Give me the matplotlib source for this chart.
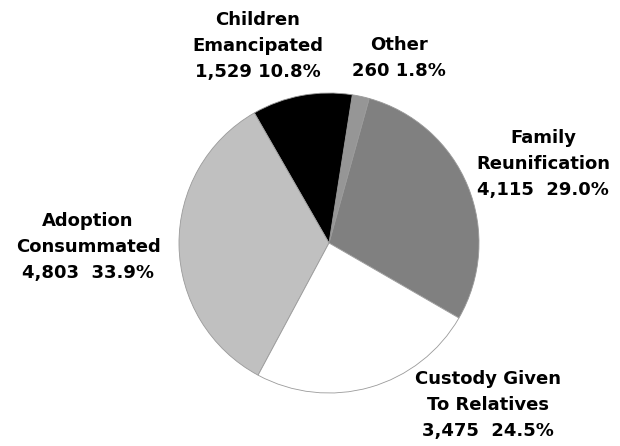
import matplotlib
matplotlib.use("Agg")
import matplotlib.pyplot as plt

# outcome data
names = ["Family\nReunification", "Other", "Children\nEmancipated",
         "Adoption\nConsummated", "Custody Given\nTo Relatives"]
counts = [4115, 260, 1529, 4803, 3475]
pcts = [29.0, 1.8, 10.8, 33.9, 24.5]
colors = ["#808080", "#969696", "#000000", "#c0c0c0", "#ffffff"]
seps = ["  ", " ", " ", "  ", "  "]

# label centres in pixels (x, y from top)
label_px = [(543, 164), (399, 58), (258, 46), (88, 247), (488, 405)]

W, H = 620, 446
cx, cy, r = 329, 243, 150

fig = plt.figure(figsize=(W / 100, H / 100), dpi=100)
ax = fig.add_axes([0, 0, 1, 1])

ax.pie(counts, colors=colors, startangle=-30, counterclock=True,
       radius=1.0, center=(0, 0),
       wedgeprops=dict(edgecolor="#9a9a9a", linewidth=0.6))

ax.set_xlim(-cx / r, (W - cx) / r)
ax.set_ylim(-(H - cy) / r, cy / r)
ax.set_aspect("equal")
ax.axis("off")

for name, n, p, s, (px, py) in zip(names, counts, pcts, seps, label_px):
    txt = "%s\n%s%s%.1f%%" % (name, format(n, ","), s, p)
    ax.text((px - cx) / r, (cy - py) / r, txt, ha="center", va="center",
            fontsize=13, fontweight="bold", family="DejaVu Sans",
            linespacing=1.6)

fig.savefig("out.png", dpi=100)
